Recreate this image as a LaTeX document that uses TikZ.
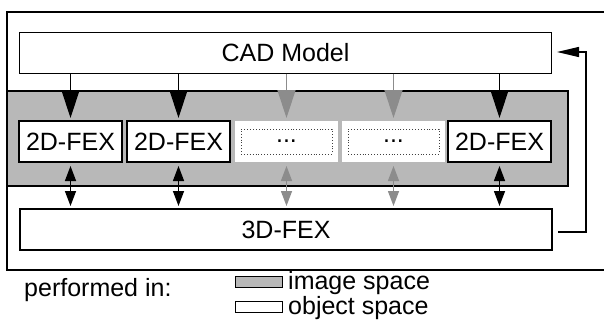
\documentclass[tikz,border=0pt]{standalone}
\usepackage{fontspec}
\setmainfont{Liberation Sans}
\usetikzlibrary{arrows.meta}

\definecolor{halftone}{gray}{0.72}
\definecolor{faintink}{gray}{0.55}

\tikzset{
  frameline/.style={line width=1.2pt},
  box/.style={draw, fill=white, line width=1.4pt, inner sep=0pt, outer sep=0pt, minimum height=41pt},
  widebox/.style={box, minimum width=532pt},
  fexbox/.style={box, minimum width=103pt},
  gapbox/.style={fill=white, inner sep=0pt, outer sep=0pt, minimum width=103pt, minimum height=41pt},
  dotbox/.style={draw=black!75, dotted, line width=0.9pt, fill=white, inner sep=0pt, outer sep=0pt,
                 minimum width=91pt, minimum height=25pt},
  feed/.style={line width=1.4pt, -{Triangle[length=28pt,width=18pt]}, shorten >=3pt},
  faintfeed/.style={feed, draw=faintink, -{Triangle[length=28pt,width=18pt,fill=faintink]}},
  link/.style={line width=1.4pt,
               {Triangle[length=15pt,width=11pt]}-{Triangle[length=15pt,width=11pt]},
               shorten <=4pt, shorten >=3pt},
  faintlink/.style={link, draw=faintink},
  loopback/.style={line width=1.2pt, -{Triangle[length=22pt,width=10pt]}},
  swatch/.style={draw, line width=1pt, inner sep=0pt, outer sep=0pt, minimum width=47pt, minimum height=11pt},
  legend/.style={inner sep=0pt, anchor=base west}
}

\begin{document}
\begin{tikzpicture}[x=1pt, y=-1pt, font=\fontsize{25}{29}\selectfont]
  \useasboundingbox (0,0) rectangle (604,321);

  % outer frame (open on the right)
  \draw[frameline] (604,12) -- (7,12) -- (7,270) -- (604,270);

  % image-space band
  \draw[frameline, fill=halftone] (7,91) rectangle (568,186);

  % CAD model and 3D feature extraction
  \node[widebox] (cad) at (285.5,53) {CAD Model};
  \node[widebox] (fex3) at (286,229.5) {3D-FEX};

  % 2D feature extraction row
  \node[fexbox] (b1) at (70.5,141.5) {2D-FEX};
  \node[fexbox] (b2) at (178.5,141.5) {2D-FEX};
  \node[gapbox] (b3) at (286.5,141.5) {};
  \node[gapbox] (b4) at (393.5,141.5) {};
  \node[fexbox] (b5) at (499.5,141.5) {2D-FEX};
  \node[dotbox] (d3) at (b3) {...};
  \node[dotbox] (d4) at (b4) {...};

  % CAD model to 2D feature extraction
  \draw[feed] (cad.south -| b1) -- (b1.north);
  \draw[feed] (cad.south -| b2) -- (b2.north);
  \draw[faintfeed] (cad.south -| b3) -- (b3.north);
  \draw[faintfeed] (cad.south -| b4) -- (b4.north);
  \draw[feed] (cad.south -| b5) -- (b5.north);

  % 2D to 3D exchange
  \draw[link] (b1.south) -- (fex3.north -| b1);
  \draw[link] (b2.south) -- (fex3.north -| b2);
  \draw[faintlink] (b3.south) -- (fex3.north -| b3);
  \draw[faintlink] (b4.south) -- (fex3.north -| b4);
  \draw[link] (b5.south) -- (fex3.north -| b5);

  % feedback loop
  \coordinate (turn) at (586,52);
  \coordinate (fbstart) at (558,232);
  \coordinate (fbend) at (557,52);
  \draw[loopback] (fbstart) -| (turn) -- (fbend);

  % legend
  \node[legend] (perf) at (24,296) {performed in:};
  \node[swatch, fill=halftone] (sw1) at (258.5,281.5) {};
  \node[legend] (l1) at (288,289) {image space};
  \node[swatch, fill=white] (sw2) at (258.5,306.5) {};
  \node[legend] (l2) at (288,314.5) {object space};
\end{tikzpicture}
\end{document}
